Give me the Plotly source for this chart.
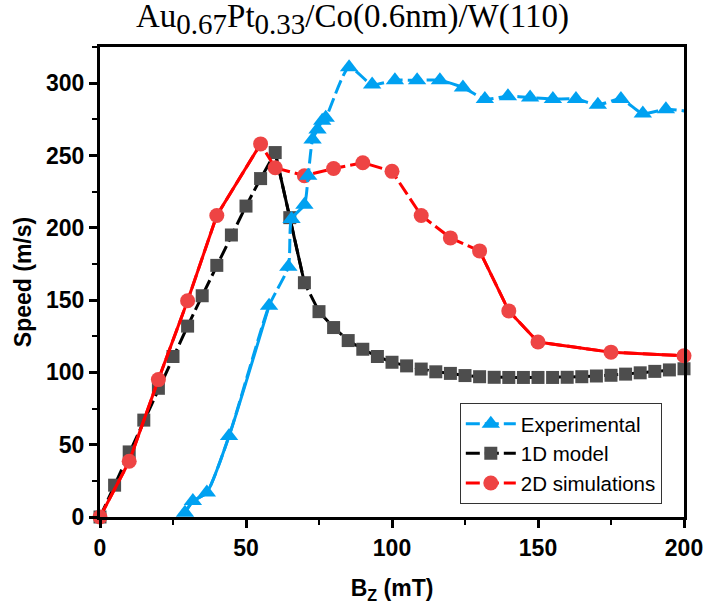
import plotly.graph_objects as go

# Experimental (blue triangles)
exp_x = [29.1, 31.8, 36.6, 44.2, 57.9, 64.5, 65.6, 70.0, 71.3, 72.8, 74.5, 76.1, 77.3, 85.3,
         93.2, 101.0, 108.6, 116.4, 124.3, 131.8, 139.7, 147.3, 155.1, 163.0, 170.5, 178.4,
         185.9, 193.8, 203.0]
exp_y = [3, 11, 17, 56, 146, 173, 206, 216, 236, 261, 268, 274, 276, 311,
         299, 302, 302, 302, 297, 289, 291, 290, 289, 289, 285, 289,
         279, 282, 280]

# 1D model (grey squares)
m1_x = [0, 5, 10, 15, 20, 25, 30, 35, 40, 45, 50, 55, 60, 65, 70, 75, 80, 85, 90, 95, 100,
        105, 110, 115, 120, 125, 130, 135, 140, 145, 150, 155, 160, 165, 170, 175, 180,
        185, 190, 195, 200]
m1_y = [0, 22, 45, 67, 89, 111, 132, 153, 174, 195, 215, 234, 252, 207, 162, 142, 131, 122,
        116, 111, 107, 104.5, 102.3, 100.4, 99.3, 97.8, 97, 96.6, 96.5, 96.5, 96.5, 96.5,
        96.6, 97, 97.5, 98, 98.8, 99.7, 100.7, 101.7, 102.5]

# 2D simulations (red circles)
s2_x = [0, 10, 20, 30, 40, 55, 60, 70, 80, 90, 100, 110, 120, 130, 140, 150, 175, 200]
s2_y = [0, 38.5, 95, 149.5, 208.5, 258, 241.5, 236, 241, 245, 239, 208.5, 193, 184,
        142.5, 121, 114, 111.5]

# index ranges of each series where the connecting line is drawn solid in the original
exp_solid = [(0, 5)]
m1_solid = [(12, 15)]
s2_solid = [(0, 6), (13, 18)]

x_ticks = [0, 50, 100, 150, 200]
y_ticks = [0, 50, 100, 150, 200, 250, 300]

BLUE = "#00A1F1"
GREY = "#4D4D4D"
RED_LINE = "#FF0000"
RED_MK = "#EE4444"
DASH = "14px,5px"

fig = go.Figure()


def solid_parts(xs, ys, ranges, color, shape="linear", clip=True):
    for a, b in ranges:
        fig.add_trace(go.Scatter(
            x=xs[a:b], y=ys[a:b], mode="lines", showlegend=False, hoverinfo="skip",
            line=dict(color=color, width=3, shape=shape, smoothing=0.6),
            cliponaxis=clip))


solid_parts(m1_x, m1_y, m1_solid, "black")
fig.add_trace(go.Scatter(
    x=m1_x, y=m1_y, name="1D model", mode="lines+markers", legendrank=2,
    line=dict(color="black", width=3, dash=DASH),
    marker=dict(symbol="square", size=13, color=GREY, line=dict(width=0)),
    cliponaxis=False))

solid_parts(s2_x, s2_y, s2_solid, RED_LINE)
fig.add_trace(go.Scatter(
    x=s2_x, y=s2_y, name="2D simulations", mode="lines+markers", legendrank=3,
    line=dict(color=RED_LINE, width=3, dash=DASH),
    marker=dict(symbol="circle", size=15, color=RED_MK, line=dict(width=0)),
    cliponaxis=False))

solid_parts(exp_x, exp_y, exp_solid, BLUE, shape="spline")
fig.add_trace(go.Scatter(
    x=exp_x, y=exp_y, name="Experimental", mode="lines+markers", legendrank=1,
    line=dict(color=BLUE, width=3, dash=DASH, shape="spline", smoothing=0.6),
    marker=dict(symbol="triangle-up", size=16, color=BLUE, line=dict(width=0)),
    cliponaxis=True))

FONT = "Liberation Sans, Arial"
tickfont = dict(family=FONT, size=23, color="black", weight="bold")
axis_common = dict(
    showline=True, linewidth=3, linecolor="black", mirror=True,
    ticks="outside", ticklen=8, tickwidth=2.5, tickcolor="black",
    showgrid=False, zeroline=False, tickfont=tickfont, automargin=False,
    minor=dict(ticks="outside", ticklen=5, tickwidth=2, tickcolor="black", showgrid=False),
)

title_text = ('Au<sub><span style="font-size:29px">0.67</span></sub>'
              'Pt<sub><span style="font-size:29px">0.33</span></sub>/Co(0.6nm)/W(110)')

fig.update_layout(
    width=705, height=606,
    margin=dict(l=100, r=21, t=47, b=89),
    paper_bgcolor="white", plot_bgcolor="white",
    title=dict(text=title_text, x=0.5, xanchor="center", y=0.994, yanchor="top",
               pad=dict(t=0),
               font=dict(family="Liberation Serif", size=33, color="black")),
    xaxis=dict(range=[0, 200], tickvals=x_ticks, minor_dtick=25,
               title=dict(text="B<sub>Z</sub> (mT)", standoff=21,
                          font=dict(family=FONT, size=23, color="black", weight="bold")),
               **axis_common),
    yaxis=dict(range=[0, 325], tickvals=y_ticks, minor_dtick=25,
               title=dict(text="Speed (m/s)", standoff=8,
                          font=dict(family=FONT, size=23, color="black", weight="bold")),
               **axis_common),
    legend=dict(x=0.962, y=0.028, xanchor="right", yanchor="bottom",
                bordercolor="#333333", borderwidth=1, bgcolor="white",
                font=dict(family=FONT, size=20.5, color="black"),
                tracegroupgap=0, itemwidth=50),
    showlegend=True,
)

fig.write_html("out.html", config={"displayModeBar": False},
               post_script="document.body.style.margin='0';document.body.style.padding='0';")
